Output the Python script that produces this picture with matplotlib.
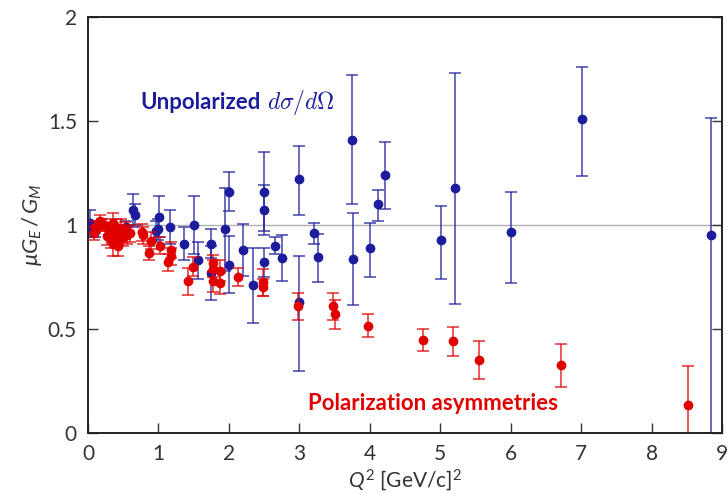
import numpy as np
import matplotlib
matplotlib.use("Agg")
import matplotlib.pyplot as plt

# ---- data ----
# unpolarized (Rosenbluth) points: Q2, ratio, lower err, upper err
blue_q2 = [0.03, 0.07, 0.10, 0.54, 0.64, 0.67, 0.97, 0.99, 1.01, 1.17,
           1.36, 1.50, 1.56, 1.75, 1.75, 1.94, 2.00, 2.00, 2.20, 2.34,
           2.50, 2.50, 2.50, 2.65, 2.76, 3.00, 3.00, 3.21, 3.26, 3.75,
           3.76, 4.00, 4.11, 4.21, 5.01, 5.21, 6.01, 7.01, 8.85]
blue_r = [1.01, 0.98, 0.97, 0.99, 1.07, 1.05, 0.97, 0.98, 1.04, 0.99,
          0.91, 1.00, 0.83, 0.91, 0.77, 0.98, 1.16, 0.81, 0.88, 0.71,
          1.16, 1.07, 0.82, 0.90, 0.84, 1.22, 0.63, 0.96, 0.845, 1.41,
          0.835, 0.89, 1.10, 1.24, 0.93, 1.18, 0.965, 1.51, 0.95]
blue_elo = [0.06, 0.04, 0.03, 0.03, 0.08, 0.05, 0.05, 0.05, 0.10, 0.08,
            0.08, 0.14, 0.09, 0.07, 0.13, 0.20, 0.095, 0.135, 0.125, 0.18,
            0.19, 0.12, 0.07, 0.04, 0.11, 0.17, 0.33, 0.05, 0.12, 0.31,
            0.22, 0.14, 0.08, 0.165, 0.19, 0.56, 0.245, 0.276, 0.95]
blue_ehi = [0.06, 0.04, 0.03, 0.03, 0.08, 0.05, 0.05, 0.05, 0.10, 0.08,
            0.08, 0.14, 0.09, 0.07, 0.13, 0.20, 0.095, 0.135, 0.125, 0.18,
            0.19, 0.12, 0.07, 0.04, 0.11, 0.16, 0.22, 0.05, 0.11, 0.31,
            0.225, 0.12, 0.07, 0.16, 0.16, 0.55, 0.195, 0.25, 0.564]

# polarization transfer points: Q2, ratio, symmetric err
red_q2 = [0.08, 0.10, 0.17, 0.20, 0.24, 0.27, 0.30, 0.33, 0.36, 0.36,
          0.38, 0.40, 0.41, 0.43, 0.45, 0.47, 0.50, 0.53, 0.56, 0.60,
          0.76, 0.78, 0.87, 0.89, 1.02, 1.13, 1.18, 1.18, 1.42, 1.49,
          1.77, 1.77, 1.77, 1.88, 1.88, 2.13, 2.48, 2.48, 2.98, 3.48,
          3.51, 3.98, 4.76, 5.18, 5.55, 6.71, 8.51]
red_r = [0.96, 0.99, 1.02, 1.00, 1.00, 0.945, 0.97, 0.93, 1.01, 0.91,
         0.96, 0.99, 0.93, 0.90, 0.96, 0.98, 0.94, 0.975, 0.95, 0.96,
         0.965, 0.95, 0.865, 0.925, 0.90, 0.82, 0.88, 0.85, 0.73, 0.80,
         0.815, 0.79, 0.73, 0.78, 0.72, 0.75, 0.725, 0.70, 0.61, 0.61,
         0.57, 0.515, 0.447, 0.44, 0.35, 0.325, 0.135]
red_err = [0.03, 0.03, 0.03, 0.03, 0.03, 0.04, 0.03, 0.04, 0.05, 0.06,
           0.04, 0.04, 0.04, 0.05, 0.04, 0.05, 0.04, 0.04, 0.04, 0.04,
           0.04, 0.04, 0.035, 0.04, 0.04, 0.04, 0.04, 0.04, 0.065, 0.045,
           0.04, 0.04, 0.05, 0.05, 0.05, 0.045, 0.065, 0.04, 0.065, 0.065,
           0.07, 0.055, 0.055, 0.07, 0.09, 0.105, 0.185]

x_ticks = [0, 1, 2, 3, 4, 5, 6, 7, 8, 9]
y_ticks = [0, 0.5, 1, 1.5, 2]
y_tick_labels = ["0", "0.5", "1", "1.5", "2"]

BLUE = "#1c1c9c"
RED = "#e00000"

plt.rcParams['font.family'] = ['Lato', 'DejaVu Sans']
plt.rcParams['mathtext.fontset'] = 'custom'
plt.rcParams['mathtext.rm'] = 'Lato'
plt.rcParams['mathtext.it'] = 'Lato:italic'

fig = plt.figure(figsize=(7.28, 4.94), dpi=100)
ax = fig.add_axes([0.1209, 0.1235, 0.8709, 0.8421])

ax.axhline(1.0, color="#b0b0b0", lw=1.0, zorder=1)

ax.errorbar(blue_q2, blue_r, yerr=[blue_elo, blue_ehi], fmt='none',
            ecolor=BLUE, elinewidth=1.3, capsize=4.3, capthick=1.3,
            alpha=0.7, zorder=2)
ax.plot(blue_q2, blue_r, 'o', color=BLUE, ms=6, zorder=3)

ax.errorbar(red_q2, red_r, yerr=red_err, fmt='none',
            ecolor=RED, elinewidth=1.3, capsize=4.3, capthick=1.3,
            alpha=0.7, zorder=4)
ax.plot(red_q2, red_r, 'o', color=RED, ms=6, zorder=5)

ax.set_xlim(0, 9)
ax.set_ylim(0, 2)
ax.set_xticks(x_ticks)
ax.set_yticks(y_ticks)
ax.set_yticklabels(y_tick_labels)
ax.tick_params(direction='in', length=7, width=1.0, labelsize=15,
               colors='#333333', right=True, top=False, pad=8)
for s in ax.spines.values():
    s.set_linewidth(1.4)
    s.set_color('#222222')

ax.set_xlabel(r"$Q^2$ [GeV/c]$^2$", fontsize=15, color='#333333', labelpad=2)
ax.set_ylabel(r"$\mu G_E\,/\,G_M$", fontsize=16, color='#333333', labelpad=3)

t1 = ax.text(0.74, 1.587, "Unpolarized", color=BLUE, fontsize=16,
             fontweight='bold', va='center', ha='left')
ax.annotate(r"$d\sigma/d\Omega$", xy=(1, 0.5), xycoords=t1,
            xytext=(5, 0), textcoords='offset points',
            color=BLUE, fontsize=17, va='center', ha='left',
            math_fontfamily='cm')
ax.text(3.12, 0.144, "Polarization asymmetries", color=RED, fontsize=16,
        fontweight='bold', va='center', ha='left')

fig.savefig("out.png", dpi=100)
